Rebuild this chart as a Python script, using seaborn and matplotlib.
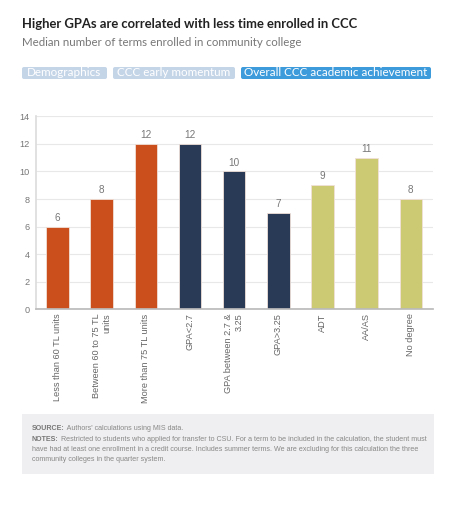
import matplotlib
matplotlib.use("Agg")
import matplotlib.pyplot as plt
from matplotlib.patches import FancyBboxPatch, Rectangle
import seaborn as sns
import pandas as pd

categories = ["Less than 60 TL units", "Between 60 to 75 TL\nunits", "More than 75 TL units",
              "GPA<2.7", "GPA between 2.7 &\n3.25", "GPA>3.25",
              "ADT", "AA/AS", "No degree"]
terms = [6, 8, 12, 12, 10, 7, 9, 11, 8]
groups = ["Demographics"] * 3 + ["CCC early momentum"] * 3 + ["Overall CCC academic achievement"] * 3
group_colors = {"Demographics": "#CB4F1C",
                "CCC early momentum": "#283A55",
                "Overall CCC academic achievement": "#CDCA74"}
pills = ["Demographics", "CCC early momentum", "Overall CCC academic achievement"]
pill_colors = ["#C5D5E8", "#C5D5E8", "#3D9BDC"]

df = pd.DataFrame({"category": categories, "terms": terms, "group": groups})

sns.set_theme(style="white")
plt.rcParams["font.family"] = ["Liberation Sans", "DejaVu Sans"]

fig = plt.figure(figsize=(4.69, 5.11), dpi=100)
ax = fig.add_axes([0.0757, 0.3947, 0.8473, 0.3777])

sns.barplot(data=df, x="category", y="terms", hue="group", palette=group_colors,
            dodge=False, width=0.51, saturation=1, edgecolor="#f0e0d8", linewidth=0.6,
            legend=False, ax=ax)

for i, v in enumerate(terms):
    ax.text(i, v + 0.28, str(v), ha="center", va="bottom", fontsize=7.2, color="#777777")

ax.set_ylim(0, 14)
ax.set_yticks(range(0, 15, 2))
ax.set_xlim(-0.5, len(categories) - 0.5)
ax.yaxis.grid(True, color="#e8e8e8", linewidth=0.8)
ax.set_axisbelow(True)
ax.set_xlabel("")
ax.set_ylabel("")
for s in ["top", "right"]:
    ax.spines[s].set_visible(False)
ax.spines["left"].set_color("#dddddd")
ax.spines["bottom"].set_color("#bbbbbb")
ax.tick_params(axis="y", labelsize=6.6, colors="#777777", length=0, pad=4)
ax.tick_params(axis="x", labelsize=6.6, colors="#666666", length=0, pad=3)
ax.set_xticks(range(len(categories)))
ax.set_xticklabels(categories, rotation=90, ha="center", va="top", multialignment="right")

# title and subtitle
fig.text(22 / 469, 1 - 24 / 511, "Higher GPAs are correlated with less time enrolled in CCC",
         fontsize=9.4, fontweight="bold", color="#222222", family=["Lato", "DejaVu Sans"], va="center")
fig.text(22 / 469, 1 - 42 / 511, "Median number of terms enrolled in community college",
         fontsize=8.3, color="#777777", family=["Lato", "DejaVu Sans"], va="center")

# pill buttons
pill_x = [22, 113, 241]
pill_w = [85, 122, 190]
for label, px_, pw, pc in zip(pills, pill_x, pill_w, pill_colors):
    fig.patches.append(FancyBboxPatch((px_ / 469, 1 - 79 / 511), pw / 469, 12 / 511,
                                      boxstyle="round,pad=0,rounding_size=0.004",
                                      transform=fig.transFigure, facecolor=pc,
                                      edgecolor="none", zorder=-1))
    fig.text((px_ + pw / 2) / 469, 1 - 73 / 511, label, ha="center", va="center",
             fontsize=8.4, color="white", family=["Lato", "DejaVu Sans"])

# notes box
fig.patches.append(Rectangle((22 / 469, 1 - 474 / 511), 412 / 469, 60 / 511,
                             transform=fig.transFigure, facecolor="#EFEFF1",
                             edgecolor="none", zorder=-1))
renderer = fig.canvas.get_renderer()
fx = 32 / 469
note_fs = 5.1
notes = [
    ("SOURCE:", " Authors' calculations using MIS data."),
    ("NOTES:", " Restricted to students who applied for transfer to CSU. For a term to be included in the calculation, the student must"),
    ("", "have had at least one enrollment in a credit course. Includes summer terms. We are excluding for this calculation the three"),
    ("", "community colleges in the quarter system."),
]
note_y = [428, 439, 449, 459]
for (bold, rest), yy in zip(notes, note_y):
    x0 = fx
    if bold:
        tb = fig.text(x0, 1 - yy / 511, bold, fontsize=note_fs, fontweight="bold",
                      color="#777777", va="center")
        bb = tb.get_window_extent(renderer)
        x0 = bb.x1 / fig.bbox.width
    fig.text(x0, 1 - yy / 511, rest, fontsize=note_fs, color="#888888", va="center")

fig.savefig("out.png", dpi=100, facecolor="white")
